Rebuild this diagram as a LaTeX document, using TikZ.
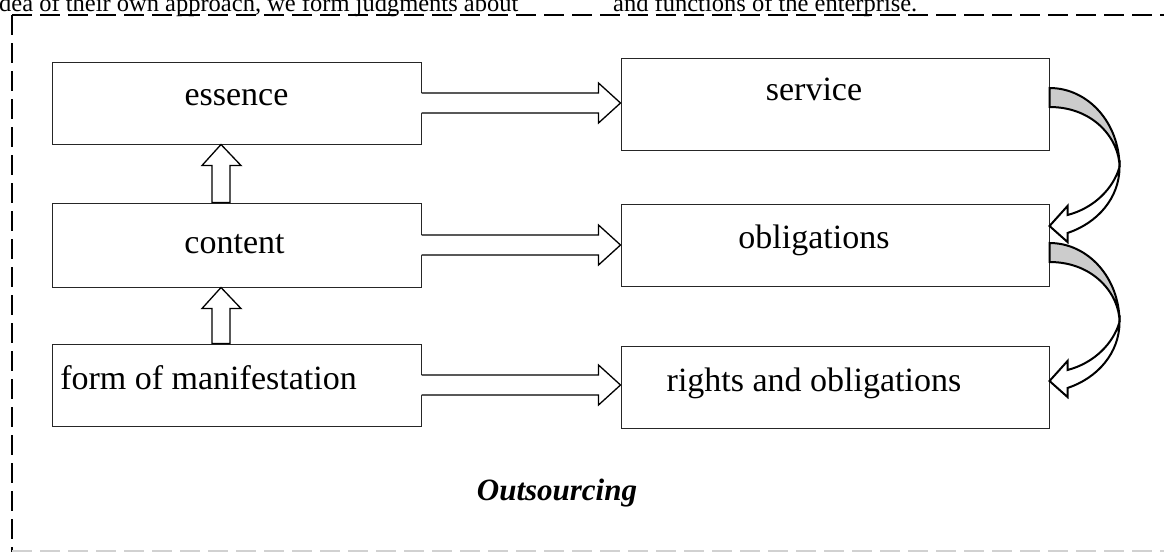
\documentclass[tikz,border=0pt]{standalone}
\usepackage{fontspec}
\setmainfont{Liberation Serif}
\usetikzlibrary{calc}
\newcommand{\harrow}[2]{%
  \fill[white] ($(#1.east)+(-1.5,-10)$) -- ($(#2.west |- #1.east)+(-22,-10)$) -- ($(#2.west |- #1.east)+(-22,-20)$) -- (#2.west |- #1.east) -- ($(#2.west |- #1.east)+(-22,20)$) -- ($(#2.west |- #1.east)+(-22,10)$) -- ($(#1.east)+(-1.5,10)$) -- cycle;
  \draw[blk] ($(#1.east)+(0,-10)$) -- ($(#2.west |- #1.east)+(-22,-10)$) -- ($(#2.west |- #1.east)+(-22,-20)$) -- (#2.west |- #1.east) -- ($(#2.west |- #1.east)+(-22,20)$) -- ($(#2.west |- #1.east)+(-22,10)$) -- ($(#1.east)+(0,10)$);}
\newcommand{\varrow}[2]{%
  \draw[blk, fill=white] ($(#1.north)+(-24.5,0)$) -- ($(#2.south)+(-24.5,21)$) -- ($(#2.south)+(-34.5,21)$) -- ($(#2.south)+(-15.5,0)$) -- ($(#2.south)+(4.5,21)$) -- ($(#2.south)+(-6.5,21)$) -- ($(#1.north)+(-6.5,0)$) -- cycle;}
\newcommand{\carrow}[1]{%
  \draw[curv, fill=black!20] (#1) .. controls +(38.7,0) and +(0,-44) .. ++(70,79) .. controls +(0,-27) and +(45,0) .. ($(#1)+(0,19)$) -- cycle;
  \draw[curv, fill=white] ($(#1)+(70,79)$) .. controls +(-6,21) and +(27,-7) .. ($(#1)+(18,127)$) -- ($(#1)+(18,118)$) -- ($(#1)+(0,138)$) -- ($(#1)+(18,154)$) -- ($(#1)+(18,145)$) .. controls +(30,-10) and +(0,31) .. ($(#1)+(70,79)$) -- cycle;}
\begin{document}
\begin{tikzpicture}[x=1pt,y=-1pt,
  box/.style={draw=black!85, line width=1pt, rectangle, inner sep=0pt, font=\fontsize{34}{40}\selectfont},
  bl/.style={text height=#1pt, text depth=0pt},
  blk/.style={draw=black, line width=1.3pt, line join=miter},
  curv/.style={draw=black, line width=2pt, line join=miter},
  dashb/.style={line width=2pt, dash pattern=on 20pt off 8pt}]
\useasboundingbox (0,0) rectangle (1164,552);
% top text
\node[anchor=base west, inner sep=0pt, font=\fontsize{24.5}{29}\selectfont] (t1) at (-1,11.5) {dea of their own approach, we form judgments about};
\node[anchor=base west, inner sep=0pt, font=\fontsize{24.5}{29}\selectfont] (t2) at (613,11.5) {and functions of the enterprise.};
% boxes
\node[box, bl=4, minimum width=369pt, minimum height=82pt] (essence) at (236.5,103) {essence};
\node[box, bl=16, minimum width=369pt, minimum height=84pt] (content) at (236.5,245) {content\hspace*{4pt}};
\node[box, bl=8, minimum width=369pt, minimum height=82pt] (form) at (236.5,385) {form of manifestation\hspace*{56pt}};
\node[box, text height=0pt, text depth=8pt, minimum width=428pt, minimum height=92pt] (service) at (835,104) {service\hspace*{42pt}};
\node[box, bl=6, minimum width=428pt, minimum height=82pt] (oblig) at (835,245) {obligations\hspace*{42pt}};
\node[box, bl=8, minimum width=428pt, minimum height=82pt] (rights) at (835,387) {rights and obligations\hspace*{42pt}};
% arrows
\harrow{essence}{service}
\harrow{content}{oblig}
\harrow{form}{rights}
\varrow{content}{essence}
\varrow{form}{content}
\coordinate (c1) at (service.east |- 0,88);
\coordinate (c2) at (oblig.east |- 0,243);
\carrow{c1}
\carrow{c2}
% title
\node[anchor=base, inner sep=0pt, font=\fontsize{31}{36}\selectfont\bfseries\itshape] (out) at (557,500) {Outsourcing};
% dashed frame
\draw[dashb] (12,15) -- (1164,15);
\draw[dashb] (12,15) -- (12,552);
\draw[dashb, draw=black!18] (12,551) -- (1164,551);
\end{tikzpicture}
\end{document}
